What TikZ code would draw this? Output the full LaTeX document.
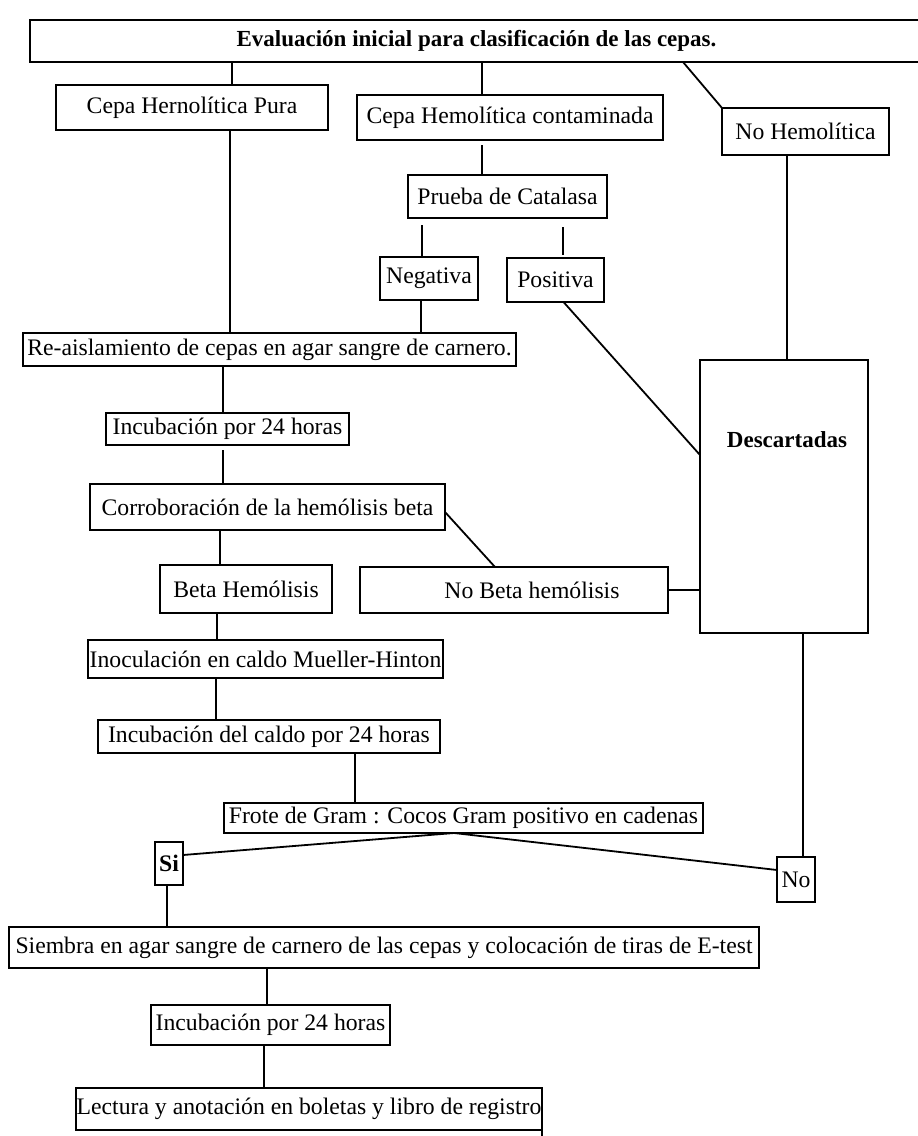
\documentclass[tikz,border=0pt]{standalone}
\usepackage{fontspec}
\setmainfont{Liberation Serif}
\usetikzlibrary{calc}
\begin{document}
\begin{tikzpicture}[x=1pt,y=-1pt,
  box/.style={draw=black, line width=1.8pt, inner sep=0pt, outer sep=0pt, fill=white,
    font=\fontsize{23.7}{26}\selectfont},
  bbox/.style={box, font=\fontsize{23}{26}\selectfont\bfseries},
  plain/.style={inner sep=0pt, font=\fontsize{23}{26}\selectfont\bfseries},
  thin/.style={draw=black, line width=1.1pt},
  thick/.style={draw=black, line width=1.8pt}]
\useasboundingbox (0,0) rectangle (918,1136);
\fill[white] (0,0) rectangle (918,1136);

\node[bbox, minimum width=893, minimum height=42] (top) at (476.5,41) {Evaluación inicial para clasificación de las cepas.};
\node[box, minimum width=272, minimum height=45] (pura) at (192,107.5) {Cepa Hernolítica Pura};
\node[box, minimum width=306, minimum height=45] (cont) at (510,117.5) {Cepa Hemolítica contaminada};
\node[box, minimum width=167, minimum height=47] (nohem) at (805.5,131.5) {No Hemolítica};
\node[box, minimum width=199, minimum height=43] (prueba) at (507.5,196.5) {Prueba de Catalasa};
\node[box, minimum width=98, minimum height=43] (neg) at (429,278.5) {Negativa};
\node[box, minimum width=97, minimum height=44] (pos) at (555.5,280) {Positiva};
\node[box, minimum width=493, minimum height=33] (reais) at (269.5,349.5) {Re-aislamiento de cepas en agar sangre de carnero.};
\node[box, minimum width=243, minimum height=32] (inc1) at (227.5,429) {Incubación por 24 horas};
\node[box, minimum width=168, minimum height=273] (desc) at (784,496.5) {};
\node[plain] (desctext) at (787,440) {Descartadas};
\node[box, minimum width=355, minimum height=46] (corr) at (267.5,507) {Corroboración de la hemólisis beta};
\node[box, minimum width=172, minimum height=48] (beta) at (246,589) {Beta Hemólisis};
\node[box, minimum width=308, minimum height=46] (nobeta) at (514,590) {\hspace*{36pt}No Beta hemólisis};
\node[box, minimum width=355, minimum height=38] (inoc) at (265.5,659) {Inoculación en caldo Mueller-Hinton};
\node[box, minimum width=342, minimum height=33] (incc) at (269,736.5) {Incubación del caldo por 24 horas};
\node[box, minimum width=479, minimum height=30] (frote) at (463.5,818) {Frote de Gram : Cocos Gram positivo en cadenas};
\node[box, minimum width=28, minimum height=43] (si) at (169,863.5) {\bfseries Si};
\node[box, minimum width=38, minimum height=45] (no) at (796,879.5) {No};
\node[box, minimum width=750, minimum height=41] (siem) at (384,947.5) {Siembra en agar sangre de carnero de las cepas y colocación de tiras de E-test};
\node[box, minimum width=239, minimum height=40] (inc2) at (270.5,1025) {Incubación por 24 horas};
\node[box, minimum width=466, minimum height=42] (lect) at (309,1109) {Lectura y anotación en boletas y libro de registro};
\coordinate (lectend) at ($(lect.south east)+(0,10)$);

% connectors
\draw[thin] ([xshift=40pt]pura.north |- top.south) -- ([xshift=40pt]pura.north);
\draw[thin] ([xshift=-28pt]cont.north |- top.south) -- ([xshift=-28pt]cont.north);
\draw[thick] ([xshift=206.5pt]top.south) -- (nohem.north west);
\draw[thin] ([xshift=38pt]pura.south) -- ([xshift=38pt]pura.south |- reais.north);
\draw[thin, shorten <=5pt] ([xshift=-28pt]cont.south) -- ([xshift=-28pt]cont.south |- prueba.north);
\draw[thin, shorten <=7pt] ([xshift=-7pt]neg.north |- prueba.south) -- ([xshift=-7pt]neg.north);
\draw[thin, shorten <=9pt, shorten >=3pt] ([xshift=7.5pt]pos.north |- prueba.south) -- ([xshift=7.5pt]pos.north);
\draw[thin] ([xshift=-8pt]neg.south) -- ([xshift=-8pt]neg.south |- reais.north);
\draw[thick] ([xshift=8pt]pos.south) -- ($(desc.north west)+(0,95)$);
\draw[thin] ([xshift=-18.5pt]nohem.south) -- ([xshift=-18.5pt]nohem.south |- desc.north);
\draw[thin] ([xshift=-4.5pt]inc1.north |- reais.south) -- ([xshift=-4.5pt]inc1.north);
\draw[thin, shorten <=5pt] ([xshift=-4.5pt]inc1.south) -- ([xshift=-4.5pt]inc1.south |- corr.north);
\draw[thick] ([yshift=-5pt]corr.east) -- ([xshift=-19pt]nobeta.north);
\draw[thick] (nobeta.east) -- (nobeta.east -| desc.west);
\draw[thin] ([xshift=-26pt]beta.north |- corr.south) -- ([xshift=-26pt]beta.north);
\draw[thin] ([xshift=-29pt]beta.south) -- ([xshift=-29pt]beta.south |- inoc.north);
\draw[thin] ([xshift=-49.5pt]inoc.south) -- ([xshift=-49.5pt]inoc.south |- incc.north);
\draw[thin] ([xshift=86pt]incc.south) -- ([xshift=86pt]incc.south |- frote.north);
\draw[thick] ([xshift=-9.5pt]frote.south) -- ([yshift=8.5pt]si.east);
\draw[thick] ([xshift=-9.5pt]frote.south) -- ([yshift=9.5pt]no.west);
\draw[thin] ([xshift=19pt]desc.south) -- ([xshift=19pt]desc.south |- no.north);
\draw[thin] ([xshift=-2pt]si.south) -- ([xshift=-2pt]si.south |- siem.north);
\draw[thin] ([xshift=-3.5pt]inc2.north |- siem.south) -- ([xshift=-3.5pt]inc2.north);
\draw[thin] ([xshift=-6.5pt]inc2.south) -- ([xshift=-6.5pt]inc2.south |- lect.north);
\draw[thick] (lect.south east) -- (lectend);
\end{tikzpicture}
\end{document}
